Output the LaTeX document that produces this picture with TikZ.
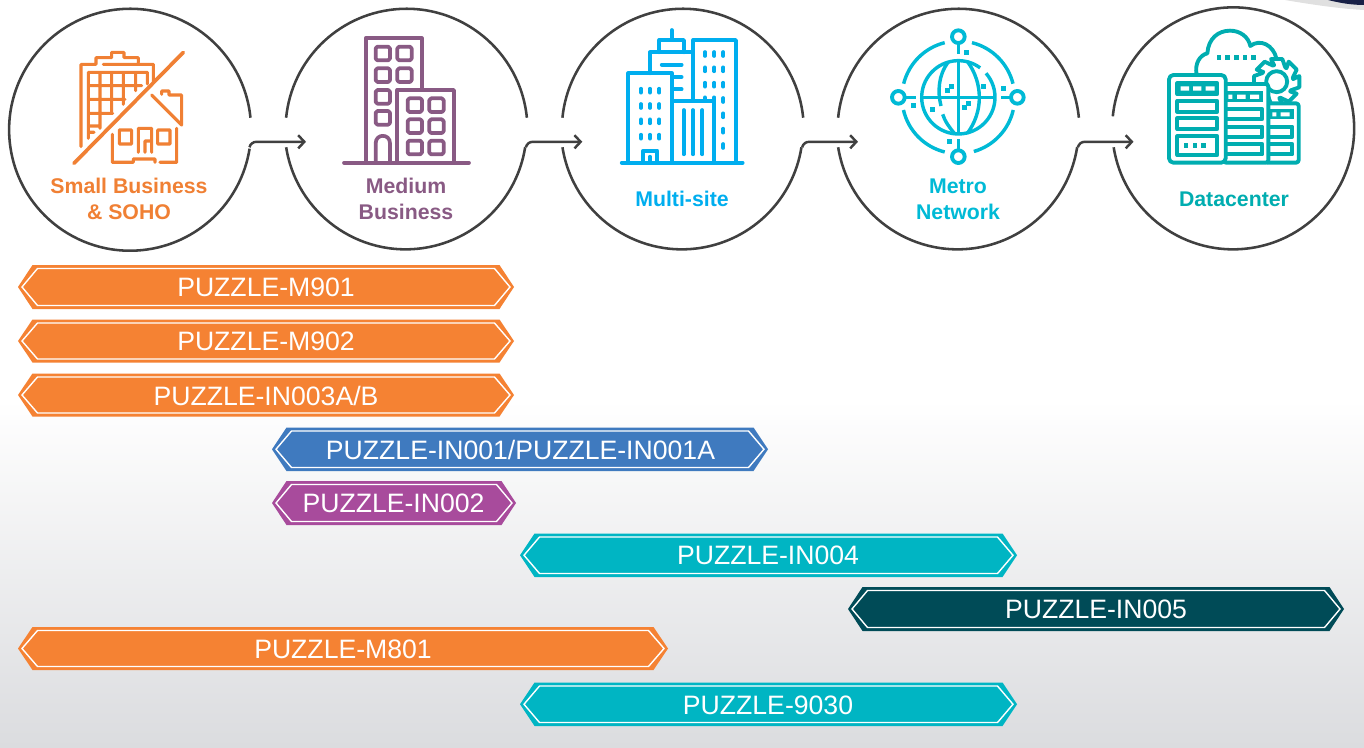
\documentclass[tikz,border=0pt]{standalone}
\usepackage{fontspec}
\setmainfont{Liberation Sans}
\usetikzlibrary{arrows.meta,calc}
\definecolor{cOrange}{HTML}{F58233}
\definecolor{cOrangeT}{HTML}{F08034}
\definecolor{cBlue}{HTML}{3F7ABF}
\definecolor{cPurple}{HTML}{A84B9C}
\definecolor{cTeal}{HTML}{00B5C3}
\definecolor{cDark}{HTML}{004B57}
\definecolor{cMed}{HTML}{895A84}
\definecolor{cMulti}{HTML}{00AEEF}
\definecolor{cMetro}{HTML}{00BAD6}
\definecolor{cData}{HTML}{00ADB0}
\definecolor{cRing}{HTML}{404040}
\definecolor{cBgEnd}{HTML}{DBDCDF}
\definecolor{cSmudge}{HTML}{182046}
\tikzset{
  ringnode/.style={circle,draw=none,inner sep=0pt,minimum size=4.84cm},
  ring/.style={draw=cRing,line width=1.45pt},
  conn/.style={draw=cRing,line width=1.4pt,-{Straight Barb[length=3.5pt,width=7.5pt]}},
  caption/.style={font=\bfseries\fontsize{12.1}{14.7}\selectfont,align=center,inner sep=0pt},
  bartext/.style={text=white,font=\fontsize{15.15}{18}\selectfont,inner sep=0pt},
  zoomed/.style={x=0.00666667cm,y=-0.00666667cm},
  ico/.style={line width=2.1pt,line cap=round,line join=round},
  thinico/.style={line width=1.95pt,line cap=round,line join=round},
}
\newcommand{\bannerpoly}[5]{% x1 x2 ytop ybot colour
  \pgfmathsetmacro{\ym}{(#3+#4)/2}
  \fill[#5] (#1,\ym) -- (#1+14.5,#3) -- (#2-14.5,#3) -- (#2,\ym) -- (#2-14.5,#4) -- (#1+14.5,#4) -- cycle;
  \draw[white,line width=0.8pt] (#1+4,\ym) -- (#1+19.5,#3+3.5) -- (#2-19.5,#3+3.5) -- (#2-4,\ym) -- (#2-19.5,#4-3.5) -- (#1+19.5,#4-3.5) -- cycle;
}
\begin{document}
\begin{tikzpicture}[x=0.02cm,y=-0.02cm]
\useasboundingbox (0,0) rectangle (1364,747);
\fill[white] (0,0) rectangle (1364,747);
\shade[top color=white,bottom color=cBgEnd] (0,400) rectangle (1364,747);
% smudge top right
\fill[black!12] (1285,0) .. controls (1320,6) and (1345,9) .. (1364,10) -- (1364,0) -- cycle;
\fill[cSmudge] (1328,0) .. controls (1340,3) and (1352,5) .. (1364,5) -- (1364,0) -- cycle;

% ring anchors
\node[ringnode] (c1) at (129.6,128.3) {};
\node[ringnode] (c2) at (406,128.3) {};
\node[ringnode] (c3) at (682.3,128.3) {};
\node[ringnode] (c4) at (958,128.3) {};
\node[ringnode] (c5) at (1233.5,128.3) {};
\path[ring] (c1.5.7) arc[start angle=5.7,end angle=351,radius=2.42cm];
\foreach \c in {c2,c3,c4}{
  \path[ring] (\c.5.7) arc[start angle=5.7,end angle=174.3,radius=2.42cm];
  \path[ring] (\c.189) arc[start angle=189,end angle=351,radius=2.42cm];
}
\path[ring] (c5.189) arc[start angle=189,end angle=534.3,radius=2.42cm];

% connectors
\foreach \a/\b in {c1/c2,c2/c3,c3/c4,c4/c5}{
  \coordinate (k\a) at ($(\a.center)+(127,13.5)$);
  \coordinate (t\a) at ($(\b.center)+(-100,13.5)$);
  \path[conn] (\a.-9) .. controls +(1,-3.5) and +(-3.5,0) .. (k\a) -- (t\a);
}

% captions
\node[caption,text=cOrangeT] (l1) at (129,199) {Small Business\\\& SOHO};
\node[caption,text=cMed] (l2) at (406,199) {Medium\\Business};
\node[caption,text=cMulti] (l3) at (682,199) {Multi-site};
\node[caption,text=cMetro] (l4) at (958,199) {Metro\\Network};
\node[caption,text=cData] (l5) at (1234,199) {Datacenter};

% ---- icon 1
\begin{scope}[shift={(70,45)},zoomed,ico,line width=2.1pt]
\draw[cOrangeT] (12,355) -- (340,22);
\draw[cOrangeT,line width=1.8pt]
  (33,305) -- (33,58) -- (78,58) -- (78,38) -- (125,38) -- (125,22) -- (162,22) -- (162,38) -- (205,38) -- (205,52)
  (100,58) -- (250,58) -- (250,110)
  (55,280) -- (55,82) -- (232,82) -- (232,117)
  (55,122) -- (215,122)
  (55,163) -- (165,163)
  (55,205) -- (128,205)
  (55,243) -- (90,243)
  (90,82) -- (90,250)
  (125,82) -- (125,205)
  (160,82) -- (160,178)
  (197,82) -- (197,137)
  (55,262) -- (72,262)
  (245,150) -- (335,240) -- (335,150) -- (297,150) -- (297,138) -- (275,138) -- (275,148)
  (127,268) -- (127,352) -- (190,352) -- (190,342) -- (255,342) -- (255,352)
  (270,352) -- (320,352) -- (320,250)
  (148,255) rectangle (185,297)
  (263,255) rectangle (300,297)
  (205,322) -- (205,250) -- (245,250) -- (245,322)
  (225,322) -- (225,288) -- (245,288);
\end{scope}

% ---- icon 2
\begin{scope}[shift={(320,0)},zoomed,ico,cMed]
\draw (137,488) -- (137,115) -- (305,115) -- (305,268);
\draw (232,488) -- (232,270) -- (402,270) -- (402,488);
\draw (72,488) -- (447,488);
\foreach \x/\y in {167/140,232/140,167/205,232/205,167/270,167/333,263/295,328/295,263/358,328/358,263/422,328/422}
  \draw[rounded corners=1pt] (\x,\y) rectangle (\x+43,\y+41);
\draw (167,488) -- (167,430) .. controls (167,400) and (210,400) .. (210,430) -- (210,488);
\end{scope}

% ---- icon 3
\begin{scope}[shift={(610,20)},zoomed,ico,cMulti]
\draw (35,428) -- (398,428);
\draw (55,428) -- (55,160) -- (186,160) -- (186,428);
\draw (250,240) -- (250,60) -- (378,60) -- (378,428);
\draw (120,160) -- (120,97) -- (245,97);
\draw (148,97) -- (148,60) -- (222,60) -- (222,97);
\draw (185,60) -- (185,30);
\draw (186,243) -- (313,243) -- (313,428);
\draw (155,134) -- (215,134) (186,171) -- (215,171) (186,208) -- (215,208);
\foreach \x in {221,249,277} \draw (\x,270) -- (\x,403);
\foreach \x in {93,120,148} \foreach \y in {212,258,304,350} \draw (\x,\y-6) -- (\x,\y+6);
\foreach \x in {285,313,340} \foreach \y in {102,148,194} \draw (\x,\y-6) -- (\x,\y+6);
\foreach \y in {240,286,332,378} \draw (340,\y-6) -- (340,\y+6);
\draw (285,232) -- (285,240) (313,232) -- (313,243);
\draw (100,428) -- (100,392) -- (142,392) -- (142,428) (120,428) -- (120,410);
\end{scope}

% ---- icon 4
\begin{scope}[shift={(880,20)},zoomed,cMetro,thinico,line cap=butt]
% globe
\draw ({235+110*cos(41)},{232-110*sin(41)}) arc[start angle=41,end angle=-306.5,radius=0.7333cm];
\draw (235,122) -- (235,342) (125,232) -- (345,232);
\draw (262,124) .. controls (310,190) and (310,275) .. (262,340);
\draw (205,126) .. controls (175,165) and (172,215) .. (183,258);
\draw (188,283) .. controls (195,305) and (210,325) .. (225,342);
% rings
\foreach \s/\e in {76/14,104/166,193/256,286/347}{
  \draw ({235+169*cos(\s)},{232-169*sin(\s)}) arc[start angle=\s,end angle=\e,radius=1.127cm];
}
\foreach \x/\y in {235/50,55/232,412/232,235/410} \draw[line width=2.2pt] (\x,\y) circle[radius=0.127cm];
\draw (235,72) -- (235,102) (77,232) -- (107,232) (364,232) -- (391,232) (235,358) -- (235,388);
\foreach \x/\y in {259/97,100/257,370/205,208/364,202/211,214/199,310/199,157/268,253/262,265/250}
  \fill (\x-7.5,\y-7.5) rectangle (\x+7.5,\y+7.5);
\end{scope}

% ---- icon 5
\begin{scope}[shift={(1155,20)},zoomed,cData,line join=round,line width=2.2pt]
% cloud
\draw (125,165) .. controls (118,130) and (135,105) .. (157,100) .. controls (160,55) and (190,32) .. (225,32) .. controls (255,32) and (280,50) .. (286,78) .. controls (315,55) and (355,75) .. (364,115);
\foreach \x in {192,218,244,270,296} \fill (\x-7,105) rectangle (\x+7,120);
% gear
\begin{scope}[shift={(365,185)}]
\filldraw[fill=white,draw=cData] (-9:50)
  \foreach \a in {0,45,...,315}{ -- (\a-14:70) -- (\a+14:70) -- (\a+31:50) -- (\a+36:50) } -- cycle;
\draw (0,0) circle[radius=0.21cm];
\end{scope}
% servers back to front
\filldraw[fill=white,draw=cData,rounded corners=1.5pt] (330,250) -- (431,250) -- (431,428) -- (330,428) -- cycle;
\filldraw[fill=white,draw=cData,rounded corners=1.5pt] (205,192) -- (340,192) -- (340,428) -- (205,428) -- cycle;
\filldraw[fill=white,draw=cData,rounded corners=2.5pt] (42,165) -- (212,165) -- (212,428) -- (42,428) -- cycle;
% left slots
\foreach \y/\h in {190/32,243/32,295/32,349/56} \draw (67,\y) rectangle (187,\y+\h);
\fill (67,190) rectangle (187,222);
\fill[white] (77,199) rectangle (102,212) (114,199) rectangle (139,212) (152,199) rectangle (179,212);
\foreach \x in {93,120,146} \fill (\x-7,369) rectangle (\x+7,384);
% middle slots
\fill (212,212) rectangle (325,245);
\fill[white] (220,224) rectangle (232,237) (246,224) rectangle (272,237) (285,224) rectangle (312,237);
\draw (212,268) -- (322,268) -- (322,297) -- (212,297);
\draw (212,320) -- (322,320) -- (322,350) -- (212,350);
\draw (212,372) -- (322,372) -- (322,403) -- (212,403);
% right slots
\fill (340,268) rectangle (416,297);
\fill[white] (352,277) rectangle (364,289) (377,277) rectangle (404,289);
\draw (340,320) -- (412,320) -- (412,350) -- (340,350);
\draw (340,372) -- (412,372) -- (412,403) -- (340,403);
\end{scope}

% ---- banners
\bannerpoly{18}{514}{265}{309}{cOrange}
\node[bartext] (b1) at (266,287.5) {PUZZLE-M901};
\bannerpoly{18}{514}{319.5}{362.5}{cOrange}
\node[bartext] (b2) at (266,341.5) {PUZZLE-M902};
\bannerpoly{18}{514}{373.5}{416.5}{cOrange}
\node[bartext] (b3) at (266,395.5) {PUZZLE-IN003A/B};
\bannerpoly{272}{768}{427.5}{471}{cBlue}
\node[bartext] (b4) at (520.5,449.5) {PUZZLE-IN001/PUZZLE-IN001A};
\bannerpoly{272}{516}{481}{525}{cPurple}
\node[bartext] (b5) at (393.5,503.5) {PUZZLE-IN002};
\bannerpoly{520}{1017}{533.5}{577}{cTeal}
\node[bartext] (b6) at (768,555.5) {PUZZLE-IN004};
\bannerpoly{848}{1344}{587}{631}{cDark}
\node[bartext] (b7) at (1096,609.5) {PUZZLE-IN005};
\bannerpoly{18}{668}{627}{670}{cOrange}
\node[bartext] (b8) at (343,649.5) {PUZZLE-M801};
\bannerpoly{520}{1017}{682.5}{726}{cTeal}
\node[bartext] (b9) at (768,705) {PUZZLE-9030};
\end{tikzpicture}
\end{document}
